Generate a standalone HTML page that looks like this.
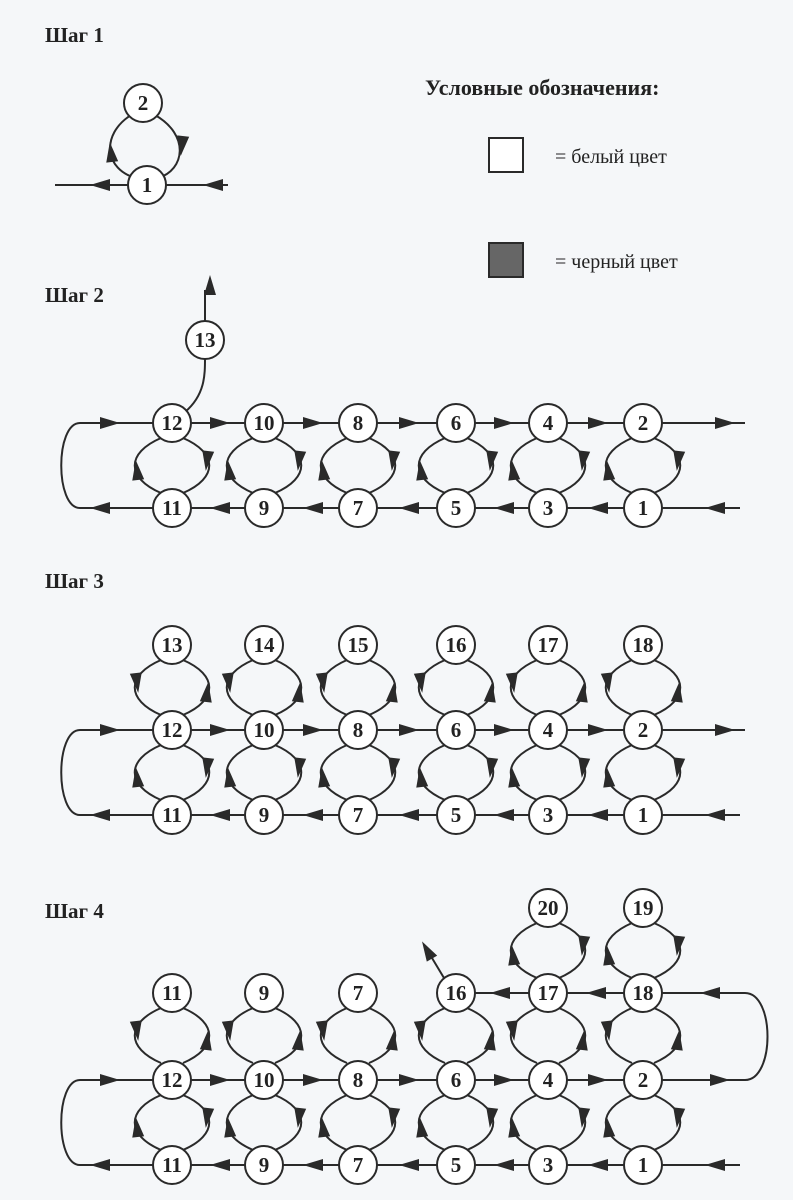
<!DOCTYPE html>
<html><head><meta charset="utf-8"><style>
html,body{margin:0;padding:0;background:#f5f7f9;}
svg{display:block}
.t{font-family:"Liberation Serif","DejaVu Serif",serif;font-weight:bold;font-size:21px;fill:#222}
.n{font-family:"Liberation Serif","DejaVu Serif",serif;font-weight:bold;font-size:21px;fill:#222;text-anchor:middle}
.l{font-family:"Liberation Serif","DejaVu Serif",serif;font-size:20px;fill:#222}
</style></head><body>
<svg width="793" height="1200" viewBox="0 0 793 1200" xmlns="http://www.w3.org/2000/svg">
<defs>
<path id="a" d="M10,0 L-10,-6 L-10,6Z" fill="#2a2a2a"/>
<g id="ud" fill="none" stroke="#2a2a2a" stroke-width="2">
<path d="M-11,15 C-46,30 -46,55 -11,70"/><path d="M11,15 C46,30 46,55 11,70"/>
<use href="#a" transform="translate(-35,47) rotate(-97)" stroke="none"/>
<use href="#a" transform="translate(35,38) rotate(97)" stroke="none"/>
</g>
<g id="du" fill="none" stroke="#2a2a2a" stroke-width="2">
<path d="M-11,15 C-46,30 -46,55 -11,70"/><path d="M11,15 C46,30 46,55 11,70"/>
<use href="#a" transform="translate(-35,38) rotate(83)" stroke="none"/>
<use href="#a" transform="translate(35,47) rotate(-83)" stroke="none"/>
</g>
<circle id="c" r="19" fill="#fff" stroke="#2a2a2a" stroke-width="2"/>
</defs>

<text class="t" x="45" y="42">Шаг 1</text>
<text class="t" x="45" y="302">Шаг 2</text>
<text class="t" x="45" y="588">Шаг 3</text>
<text class="t" x="45" y="918">Шаг 4</text>

<text class="t" x="425" y="95" style="font-size:22px">Условные обозначения:</text>
<rect x="489" y="138" width="34" height="34" fill="#fff" stroke="#2a2a2a" stroke-width="2"/>
<text class="l" x="555" y="163">= белый цвет</text>
<rect x="489" y="243" width="34" height="34" fill="#666" stroke="#2a2a2a" stroke-width="2"/>
<text class="l" x="555" y="268">= черный цвет</text>

<!-- Step 1 -->
<g stroke="#2a2a2a" stroke-width="2" fill="none">
<line x1="55" y1="185" x2="228" y2="185"/>
<path d="M131,115 C100,135 105,170 136,178"/>
<path d="M155,115 C190,135 185,170 158,178"/>
</g>
<use href="#a" transform="translate(100,185) rotate(180)"/>
<use href="#a" transform="translate(213,185) rotate(180)"/>
<use href="#a" transform="translate(111,152) rotate(-97)"/>
<use href="#a" transform="translate(182,146) rotate(97)"/>
<use href="#c" x="143" y="103"/><text class="n" x="143" y="110">2</text>
<use href="#c" x="147" y="185"/><text class="n" x="147" y="192">1</text>

<!-- Step 2 -->
<g stroke="#2a2a2a" stroke-width="2" fill="none">
<path d="M172,423 L80,423 C55,423 55,508 80,508 L172,508"/>
<line x1="172" y1="423" x2="745" y2="423"/>
<line x1="172" y1="508" x2="740" y2="508"/>
<path d="M185,412 C205,395 205,375 205,358"/>
<line x1="205" y1="321" x2="205" y2="290"/>
</g>
<use href="#a" transform="translate(210,285) rotate(-90)"/>
<use href="#a" transform="translate(110,423)"/>
<use href="#a" transform="translate(100,508) rotate(180)"/>
<use href="#a" transform="translate(220,423)"/><use href="#a" transform="translate(313,423)"/><use href="#a" transform="translate(409,423)"/><use href="#a" transform="translate(504,423)"/><use href="#a" transform="translate(598,423)"/><use href="#a" transform="translate(725,423)"/>
<use href="#a" transform="translate(220,508) rotate(180)"/><use href="#a" transform="translate(313,508) rotate(180)"/><use href="#a" transform="translate(409,508) rotate(180)"/><use href="#a" transform="translate(504,508) rotate(180)"/><use href="#a" transform="translate(598,508) rotate(180)"/><use href="#a" transform="translate(715,508) rotate(180)"/>
<use href="#ud" x="172" y="423"/><use href="#ud" x="264" y="423"/><use href="#ud" x="358" y="423"/><use href="#ud" x="456" y="423"/><use href="#ud" x="548" y="423"/><use href="#ud" x="643" y="423"/>
<use href="#c" x="205" y="340"/><text class="n" x="205" y="347">13</text>
<use href="#c" x="172" y="423"/><text class="n" x="172" y="430">12</text>
<use href="#c" x="264" y="423"/><text class="n" x="264" y="430">10</text>
<use href="#c" x="358" y="423"/><text class="n" x="358" y="430">8</text>
<use href="#c" x="456" y="423"/><text class="n" x="456" y="430">6</text>
<use href="#c" x="548" y="423"/><text class="n" x="548" y="430">4</text>
<use href="#c" x="643" y="423"/><text class="n" x="643" y="430">2</text>
<use href="#c" x="172" y="508"/><text class="n" x="172" y="515">11</text>
<use href="#c" x="264" y="508"/><text class="n" x="264" y="515">9</text>
<use href="#c" x="358" y="508"/><text class="n" x="358" y="515">7</text>
<use href="#c" x="456" y="508"/><text class="n" x="456" y="515">5</text>
<use href="#c" x="548" y="508"/><text class="n" x="548" y="515">3</text>
<use href="#c" x="643" y="508"/><text class="n" x="643" y="515">1</text>

<!-- Step 3 -->
<g stroke="#2a2a2a" stroke-width="2" fill="none">
<path d="M172,730 L80,730 C55,730 55,815 80,815 L172,815"/>
<line x1="172" y1="730" x2="745" y2="730"/>
<line x1="172" y1="815" x2="740" y2="815"/>
</g>
<use href="#a" transform="translate(110,730)"/>
<use href="#a" transform="translate(100,815) rotate(180)"/>
<use href="#a" transform="translate(220,730)"/><use href="#a" transform="translate(313,730)"/><use href="#a" transform="translate(409,730)"/><use href="#a" transform="translate(504,730)"/><use href="#a" transform="translate(598,730)"/><use href="#a" transform="translate(725,730)"/>
<use href="#a" transform="translate(220,815) rotate(180)"/><use href="#a" transform="translate(313,815) rotate(180)"/><use href="#a" transform="translate(409,815) rotate(180)"/><use href="#a" transform="translate(504,815) rotate(180)"/><use href="#a" transform="translate(598,815) rotate(180)"/><use href="#a" transform="translate(715,815) rotate(180)"/>
<use href="#du" x="172" y="645"/><use href="#du" x="264" y="645"/><use href="#du" x="358" y="645"/><use href="#du" x="456" y="645"/><use href="#du" x="548" y="645"/><use href="#du" x="643" y="645"/>
<use href="#ud" x="172" y="730"/><use href="#ud" x="264" y="730"/><use href="#ud" x="358" y="730"/><use href="#ud" x="456" y="730"/><use href="#ud" x="548" y="730"/><use href="#ud" x="643" y="730"/>
<use href="#c" x="172" y="645"/><text class="n" x="172" y="652">13</text>
<use href="#c" x="264" y="645"/><text class="n" x="264" y="652">14</text>
<use href="#c" x="358" y="645"/><text class="n" x="358" y="652">15</text>
<use href="#c" x="456" y="645"/><text class="n" x="456" y="652">16</text>
<use href="#c" x="548" y="645"/><text class="n" x="548" y="652">17</text>
<use href="#c" x="643" y="645"/><text class="n" x="643" y="652">18</text>
<use href="#c" x="172" y="730"/><text class="n" x="172" y="737">12</text>
<use href="#c" x="264" y="730"/><text class="n" x="264" y="737">10</text>
<use href="#c" x="358" y="730"/><text class="n" x="358" y="737">8</text>
<use href="#c" x="456" y="730"/><text class="n" x="456" y="737">6</text>
<use href="#c" x="548" y="730"/><text class="n" x="548" y="737">4</text>
<use href="#c" x="643" y="730"/><text class="n" x="643" y="737">2</text>
<use href="#c" x="172" y="815"/><text class="n" x="172" y="822">11</text>
<use href="#c" x="264" y="815"/><text class="n" x="264" y="822">9</text>
<use href="#c" x="358" y="815"/><text class="n" x="358" y="822">7</text>
<use href="#c" x="456" y="815"/><text class="n" x="456" y="822">5</text>
<use href="#c" x="548" y="815"/><text class="n" x="548" y="822">3</text>
<use href="#c" x="643" y="815"/><text class="n" x="643" y="822">1</text>

<!-- Step 4 -->
<g stroke="#2a2a2a" stroke-width="2" fill="none">
<path d="M172,1080 L80,1080 C55,1080 55,1165 80,1165 L172,1165"/>
<line x1="172" y1="1080" x2="643" y2="1080"/>
<line x1="172" y1="1165" x2="740" y2="1165"/>
<path d="M456,993 L643,993 L745,993 C775,993 775,1080 745,1080 L643,1080"/>
<path d="M444,978 L432,958"/>
</g>
<use href="#a" transform="translate(427,950) rotate(-120)"/>
<use href="#a" transform="translate(110,1080)"/>
<use href="#a" transform="translate(100,1165) rotate(180)"/>
<use href="#a" transform="translate(220,1080)"/><use href="#a" transform="translate(313,1080)"/><use href="#a" transform="translate(409,1080)"/><use href="#a" transform="translate(504,1080)"/><use href="#a" transform="translate(598,1080)"/><use href="#a" transform="translate(720,1080)"/>
<use href="#a" transform="translate(220,1165) rotate(180)"/><use href="#a" transform="translate(313,1165) rotate(180)"/><use href="#a" transform="translate(409,1165) rotate(180)"/><use href="#a" transform="translate(504,1165) rotate(180)"/><use href="#a" transform="translate(598,1165) rotate(180)"/><use href="#a" transform="translate(715,1165) rotate(180)"/>
<use href="#a" transform="translate(500,993) rotate(180)"/><use href="#a" transform="translate(596,993) rotate(180)"/><use href="#a" transform="translate(710,993) rotate(180)"/>
<use href="#ud" x="548" y="908"/><use href="#ud" x="643" y="908"/>
<use href="#du" x="172" y="993"/><use href="#du" x="264" y="993"/><use href="#du" x="358" y="993"/><use href="#du" x="456" y="993"/><use href="#du" x="548" y="993"/><use href="#du" x="643" y="993"/>
<use href="#ud" x="172" y="1080"/><use href="#ud" x="264" y="1080"/><use href="#ud" x="358" y="1080"/><use href="#ud" x="456" y="1080"/><use href="#ud" x="548" y="1080"/><use href="#ud" x="643" y="1080"/>
<use href="#c" x="548" y="908"/><text class="n" x="548" y="915">20</text>
<use href="#c" x="643" y="908"/><text class="n" x="643" y="915">19</text>
<use href="#c" x="172" y="993"/><text class="n" x="172" y="1000">11</text>
<use href="#c" x="264" y="993"/><text class="n" x="264" y="1000">9</text>
<use href="#c" x="358" y="993"/><text class="n" x="358" y="1000">7</text>
<use href="#c" x="456" y="993"/><text class="n" x="456" y="1000">16</text>
<use href="#c" x="548" y="993"/><text class="n" x="548" y="1000">17</text>
<use href="#c" x="643" y="993"/><text class="n" x="643" y="1000">18</text>
<use href="#c" x="172" y="1080"/><text class="n" x="172" y="1087">12</text>
<use href="#c" x="264" y="1080"/><text class="n" x="264" y="1087">10</text>
<use href="#c" x="358" y="1080"/><text class="n" x="358" y="1087">8</text>
<use href="#c" x="456" y="1080"/><text class="n" x="456" y="1087">6</text>
<use href="#c" x="548" y="1080"/><text class="n" x="548" y="1087">4</text>
<use href="#c" x="643" y="1080"/><text class="n" x="643" y="1087">2</text>
<use href="#c" x="172" y="1165"/><text class="n" x="172" y="1172">11</text>
<use href="#c" x="264" y="1165"/><text class="n" x="264" y="1172">9</text>
<use href="#c" x="358" y="1165"/><text class="n" x="358" y="1172">7</text>
<use href="#c" x="456" y="1165"/><text class="n" x="456" y="1172">5</text>
<use href="#c" x="548" y="1165"/><text class="n" x="548" y="1172">3</text>
<use href="#c" x="643" y="1165"/><text class="n" x="643" y="1172">1</text>
</svg>
</body></html>
